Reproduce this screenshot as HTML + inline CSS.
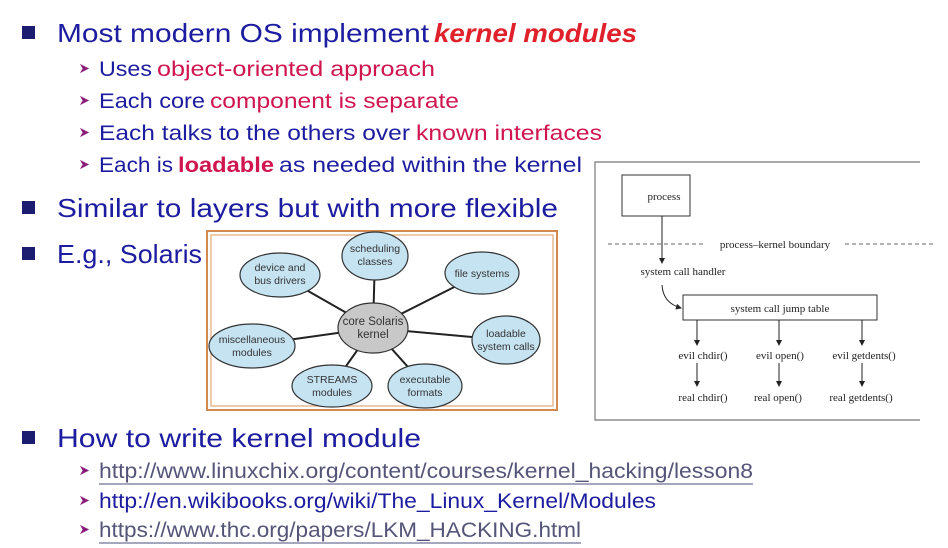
<!DOCTYPE html>
<html><head><meta charset="utf-8"><style>
html,body{margin:0;padding:0;background:#fff;width:948px;height:548px;overflow:hidden}
</style></head><body>
<svg width="948" height="548" viewBox="0 0 948 548" xmlns="http://www.w3.org/2000/svg">
<defs>
<marker id="ah" markerWidth="6" markerHeight="6" refX="5" refY="3" orient="auto"><path d="M0,0 L6,3 L0,6 z" fill="#222"/></marker>
<symbol id="arr" viewBox="0 0 12 12"><path d="M1,1 L11,6 L1,11 L4,6 z" fill="#8a1a7a"/></symbol>
</defs>
<g font-family="Liberation Sans, sans-serif">
<!-- main bullets -->
<rect x="22" y="26" width="13" height="13" fill="#1c1c70"/>
<text x="57" y="42" font-size="26" fill="#1c1ca0" textLength="372" lengthAdjust="spacingAndGlyphs">Most modern OS implement</text>
<text x="434" y="42" font-size="26" fill="#e0202a" font-weight="bold" font-style="italic" textLength="203" lengthAdjust="spacingAndGlyphs">kernel modules</text>

<use href="#arr" x="79" y="63" width="11" height="11"/>
<text x="99" y="76" font-size="21" fill="#1c1ca0" textLength="53" lengthAdjust="spacingAndGlyphs">Uses</text>
<text x="157" y="76" font-size="21" fill="#d0154f" textLength="278" lengthAdjust="spacingAndGlyphs">object-oriented approach</text>

<use href="#arr" x="79" y="95" width="11" height="11"/>
<text x="99" y="108" font-size="21" fill="#1c1ca0" textLength="106" lengthAdjust="spacingAndGlyphs">Each core</text>
<text x="210" y="108" font-size="21" fill="#d0154f" textLength="249" lengthAdjust="spacingAndGlyphs">component is separate</text>

<use href="#arr" x="79" y="127" width="11" height="11"/>
<text x="99" y="140" font-size="21" fill="#1c1ca0" textLength="311" lengthAdjust="spacingAndGlyphs">Each talks to the others over</text>
<text x="416" y="140" font-size="21" fill="#d0154f" textLength="186" lengthAdjust="spacingAndGlyphs">known interfaces</text>

<use href="#arr" x="79" y="159" width="11" height="11"/>
<text x="99" y="172" font-size="21" fill="#1c1ca0" textLength="74" lengthAdjust="spacingAndGlyphs">Each is</text>
<text x="178" y="172" font-size="21" fill="#d0154f" font-weight="bold" textLength="96" lengthAdjust="spacingAndGlyphs">loadable</text>
<text x="279" y="172" font-size="21" fill="#1c1ca0" textLength="303" lengthAdjust="spacingAndGlyphs">as needed within the kernel</text>

<rect x="22" y="201" width="13" height="13" fill="#1c1c70"/>
<text x="57" y="217" font-size="26" fill="#1c1ca0" textLength="501" lengthAdjust="spacingAndGlyphs">Similar to layers but with more flexible</text>
<rect x="22" y="247" width="13" height="13" fill="#1c1c70"/>
<text x="57" y="263" font-size="26" fill="#1c1ca0" textLength="145" lengthAdjust="spacingAndGlyphs">E.g., Solaris</text>

<rect x="22" y="431" width="13" height="13" fill="#1c1c70"/>
<text x="57" y="447" font-size="26" fill="#1c1ca0" textLength="364" lengthAdjust="spacingAndGlyphs">How to write kernel module</text>

<use href="#arr" x="79" y="465" width="11" height="11"/>
<text x="99" y="478" font-size="21" fill="#55557a" textLength="654" lengthAdjust="spacingAndGlyphs">http://www.linuxchix.org/content/courses/kernel_hacking/lesson8</text>
<line x1="99" y1="484" x2="753" y2="484" stroke="#8888a8" stroke-width="1.5"/>
<use href="#arr" x="79" y="495" width="11" height="11"/>
<text x="99" y="508" font-size="21" fill="#1c1ca0" textLength="557" lengthAdjust="spacingAndGlyphs">http://en.wikibooks.org/wiki/The_Linux_Kernel/Modules</text>
<use href="#arr" x="79" y="524" width="11" height="11"/>
<text x="99" y="537" font-size="21" fill="#55557a" textLength="482" lengthAdjust="spacingAndGlyphs">https://www.thc.org/papers/LKM_HACKING.html</text>
<line x1="99" y1="543" x2="581" y2="543" stroke="#8888a8" stroke-width="1.5"/>
</g>

<!-- Solaris diagram -->
<rect x="207" y="231" width="350" height="179" fill="#fff" stroke="#d08a50" stroke-width="2"/>
<rect x="211" y="235" width="342" height="171" fill="none" stroke="#e6b890" stroke-width="1.5"/>
<g stroke="#222" stroke-width="2">
<line x1="373" y1="328" x2="375" y2="256"/>
<line x1="373" y1="328" x2="280" y2="275"/>
<line x1="373" y1="328" x2="482" y2="273"/>
<line x1="373" y1="328" x2="252" y2="345"/>
<line x1="373" y1="328" x2="505" y2="340"/>
<line x1="373" y1="328" x2="332" y2="386"/>
<line x1="373" y1="328" x2="425" y2="386"/>
</g>
<g stroke="#333" stroke-width="1.2" fill="#c6e3f2">
<ellipse cx="375" cy="256" rx="33" ry="24"/>
<ellipse cx="280" cy="275" rx="40" ry="22"/>
<ellipse cx="482" cy="273" rx="37" ry="21"/>
<ellipse cx="252" cy="346" rx="43" ry="22"/>
<ellipse cx="506" cy="340" rx="34" ry="24"/>
<ellipse cx="332" cy="386" rx="40" ry="21"/>
<ellipse cx="425" cy="386" rx="37" ry="22"/>
<ellipse cx="373" cy="328" rx="35" ry="25" fill="#c8c8c8"/>
</g>
<g font-family="Liberation Sans, sans-serif" font-size="10.5" fill="#333" text-anchor="middle">
<text x="375" y="252">scheduling</text><text x="375" y="265">classes</text>
<text x="280" y="271">device and</text><text x="280" y="284">bus drivers</text>
<text x="482" y="277">file systems</text>
<text x="252" y="343">miscellaneous</text><text x="252" y="356">modules</text>
<text x="506" y="337">loadable</text><text x="506" y="350">system calls</text>
<text x="332" y="383">STREAMS</text><text x="332" y="396">modules</text>
<text x="425" y="383">executable</text><text x="425" y="396">formats</text>
<text x="373" y="325" font-size="11.5">core Solaris</text><text x="373" y="338" font-size="11.5">kernel</text>
</g>

<!-- right diagram -->
<polyline points="920,162 595,162 595,420 920,420" fill="none" stroke="#777" stroke-width="1.2"/>
<g font-family="Liberation Serif, serif" font-size="11" fill="#222" text-anchor="middle" stroke="none">
<rect x="622" y="175" width="68" height="41" fill="#fff" stroke="#333"/>
<text x="664" y="200">process</text>
<line x1="608" y1="244" x2="705" y2="244" stroke="#666" stroke-dasharray="4,3"/>
<line x1="845" y1="244" x2="935" y2="244" stroke="#666" stroke-dasharray="4,3"/>
<text x="775" y="248">process–kernel boundary</text>
<line x1="662" y1="216" x2="662" y2="263" stroke="#222" marker-end="url(#ah)"/>
<text x="683" y="275">system call handler</text>
<path d="M662,285 Q663,303 681,308" fill="none" stroke="#222" marker-end="url(#ah)"/>
<rect x="683" y="295" width="194" height="25" fill="#fff" stroke="#333"/>
<text x="780" y="312">system call jump table</text>
<g stroke="#222" marker-end="url(#ah)">
<line x1="697" y1="320" x2="697" y2="345"/>
<line x1="779" y1="320" x2="779" y2="345"/>
<line x1="862" y1="320" x2="862" y2="345"/>
<line x1="697" y1="363" x2="697" y2="386"/>
<line x1="779" y1="363" x2="779" y2="386"/>
<line x1="862" y1="363" x2="862" y2="386"/>
</g>
<text x="703" y="359">evil chdir()</text>
<text x="780" y="359">evil open()</text>
<text x="864" y="359">evil getdents()</text>
<text x="703" y="401">real chdir()</text>
<text x="778" y="401">real open()</text>
<text x="861" y="401">real getdents()</text>
</g>
</svg>
</body></html>
